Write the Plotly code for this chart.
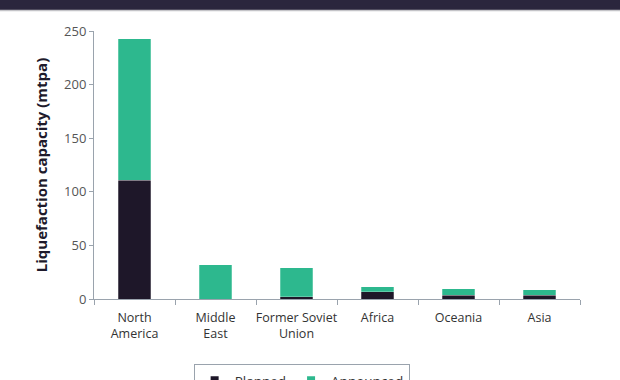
import plotly.graph_objects as go

regions = ["North<br>America", "Middle<br>East", "Former Soviet<br>Union", "Africa", "Oceania", "Asia"]
planned = [111, 0, 2, 7, 3.5, 3.5]
announced = [132, 32, 27, 4.5, 6, 5]
y_ticks = [0, 50, 100, 150, 200, 250]
series_names = ["Planned", "Announced"]

DARK = "#1e1729"
GREEN = "#2db88e"
AXIS = "#9aa3ad"
FONT = "Open Sans, sans-serif"

fig = go.Figure()
for name, vals, col in zip(series_names, [planned, announced], [DARK, GREEN]):
    fig.add_trace(go.Bar(name=name, x=regions, y=vals, marker_color=col, showlegend=False,
                         marker_line_color="rgba(255,255,255,0.5)", marker_line_width=0.5, width=0.4))
# legend-only entries with small square keys
for name, col in zip(series_names, [DARK, GREEN]):
    fig.add_trace(go.Scatter(name=name, x=[None], y=[None], mode="markers",
                             marker=dict(symbol="square", size=8, color=col), showlegend=True))

fig.update_layout(
    barmode="stack",
    width=620, height=380,
    margin=dict(l=94, r=40, t=31, b=81, autoexpand=False),
    paper_bgcolor="white", plot_bgcolor="white",
    font=dict(family=FONT, size=12, color="#4a4a4a"),
    showlegend=True,
    legend=dict(orientation="h", x=0.205, xanchor="left", y=-0.2425, yanchor="top",
                bordercolor=AXIS, borderwidth=1, font=dict(size=13.5, color="#333"),
                traceorder="normal", itemwidth=30, tracegroupgap=0),
    shapes=[
        dict(type="rect", xref="paper", yref="paper", x0=-0.3, x1=1.2, y0=1.0784, y1=1.3,
             line_width=0, fillcolor="#2b263d", layer="above"),
        dict(type="line", xref="paper", yref="paper", x0=-0.3, x1=1.2, y0=1.0766, y1=1.0766,
             line=dict(color="#c4c4c8", width=1.5)),
    ],
)
fig.update_xaxes(showline=True, linecolor=AXIS, linewidth=1, ticks="outside", tickson="boundaries",
                 ticklen=5, tickcolor=AXIS, showgrid=False, tickangle=0, automargin=False,
                 ticklabelstandoff=7, tickfont=dict(size=12.5, color="#333"))
fig.update_yaxes(range=[0, 250], tickvals=y_ticks, showline=True, linecolor=AXIS, linewidth=1,
                 ticks="outside", ticklen=4, tickcolor=AXIS, showgrid=False, zeroline=False,
                 automargin=False, tickfont=dict(size=13, color="#555"),
                 title=dict(text="<b>Liquefaction capacity (mtpa)</b>", font=dict(size=15, color="#1e1a2b"),
                            standoff=12))

fig.write_html("out.html", config={"displayModeBar": False},
               post_script="document.body.style.margin='0';document.body.style.overflow='hidden';")
